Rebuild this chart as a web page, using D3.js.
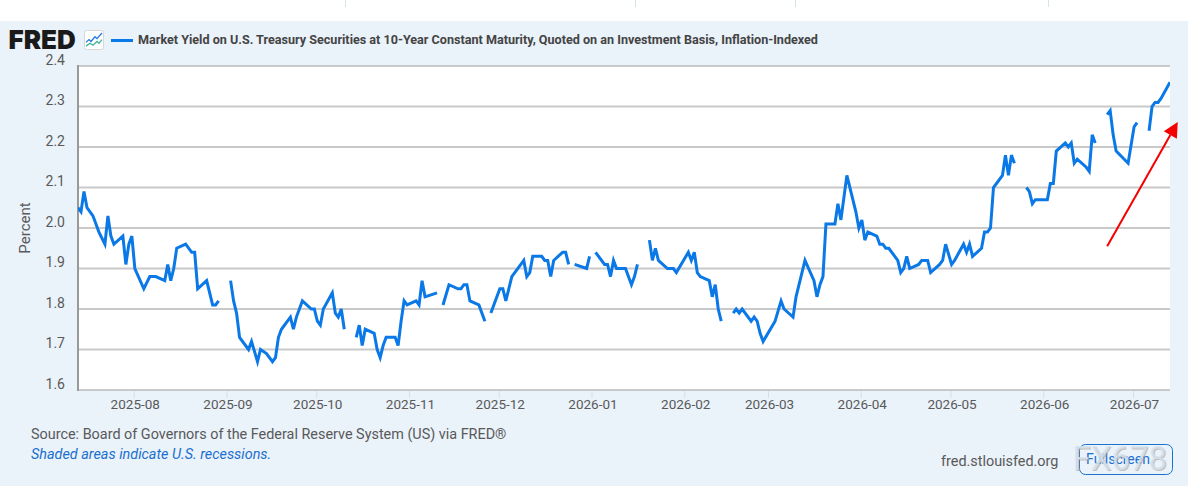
<!DOCTYPE html>
<html>
<head>
<meta charset="utf-8">
<script src="https://cdnjs.cloudflare.com/ajax/libs/d3/7.8.5/d3.min.js"></script>
<style>
  html, body { margin: 0; padding: 0; background: #fff; overflow: hidden; }
  svg { display: block; }
  text { font-family: Roboto, sans-serif; }
</style>
</head>
<body>
<svg id="chart" width="1200" height="493"></svg>
<script>
// Real yield on 10-year TIPS: observations are day offsets from the series start; null marks a missing quote.
const seriesStart = new Date(2025, 6, 13);
const seriesEnd = new Date(2026, 6, 13);

const obsDays = [
  0,1,2,3,5,7,9,10,11,12,15,16,17,18,19,22,24,26,29,30,31,32,33,36,38,39,40,43,45,46,47,48,
  51,52,53,54,57,58,60,61,63,65,66,67,68,71,72,73,75,78,79,80,81,82,85,86,87,88,89,90,
  93,94,95,96,99,100,101,102,103,106,107,108,109,110,113,114,115,116,120,121,
  122,124,127,128,129,130,131,134,136,137,
  138,141,142,143,145,149,150,151,152,155,156,157,158,159,162,163,164,165,
  166,170,171,172,
  173,176,177,178,179,180,183,185,186,187,188,
  191,192,193,194,197,199,200,204,205,206,207,208,211,212,213,214,215,216,
  219,220,221,222,225,226,227,228,229,233,235,236,239,240,241,243,246,247,248,249,250,253,254,255,257,
  260,261,262,263,264,267,268,269,270,271,274,275,276,277,278,281,282,284,285,288,289,290,292,293,296,297,298,299,
  302,303,304,305,306,309,310,311,312,313,314,
  317,318,319,320,324,325,326,327,330,331,332,333,334,337,338,339,340,341,
  344,345,346,347,351,353,354,355,
  358,359,360,361,362,365
];
const obsYields = [
  2.05,2.04,2.09,2.05,2.03,1.99,1.96,2.03,1.98,1.96,1.98,1.91,1.96,1.98,1.90,1.85,1.88,1.88,1.87,1.91,1.87,1.90,1.95,1.96,1.94,1.94,1.85,1.87,1.81,1.81,1.82,null,
  1.87,1.82,1.79,1.73,1.70,1.72,1.67,1.70,1.69,1.67,1.68,1.73,1.75,1.78,1.75,1.78,1.82,1.80,1.80,1.77,1.76,1.80,1.84,1.79,1.78,1.80,1.75,null,
  1.73,1.76,1.71,1.75,1.74,1.70,1.68,1.71,1.73,1.73,1.71,1.77,1.82,1.81,1.82,1.81,1.87,1.83,1.84,null,
  1.81,1.86,1.85,1.85,1.86,1.86,1.82,1.81,1.77,null,
  1.79,1.85,1.85,1.82,1.88,1.92,1.88,1.89,1.93,1.93,1.92,1.92,1.88,1.92,1.94,1.94,1.91,null,
  1.91,1.90,1.93,null,
  1.94,1.91,1.91,1.88,1.92,1.90,1.90,1.86,1.88,1.91,null,
  1.97,1.92,1.95,1.92,1.90,1.90,1.89,1.94,1.92,1.94,1.89,1.88,1.87,1.83,1.86,1.80,1.77,null,
  1.79,1.80,1.79,1.80,1.77,1.78,1.77,1.74,1.72,1.77,1.82,1.80,1.78,1.83,1.86,1.92,1.87,1.83,1.86,1.88,2.01,2.01,2.06,2.02,2.13,
  2.04,2.00,2.02,1.97,1.99,1.98,1.96,1.96,1.95,1.95,1.92,1.89,1.90,1.93,1.90,1.91,1.92,1.92,1.89,1.91,1.92,1.96,1.91,1.92,1.96,1.94,1.96,1.93,
  1.95,1.99,1.99,2.00,2.10,2.13,2.18,2.13,2.18,2.16,null,
  2.10,2.09,2.06,2.07,2.07,2.11,2.11,2.19,2.21,2.20,2.21,2.16,2.17,2.15,2.14,2.23,2.21,null,
  2.28,2.29,2.23,2.19,2.16,2.25,2.26,null,
  2.24,2.30,2.31,2.31,2.32,2.36
];

const yTicks = [1.6, 1.7, 1.8, 1.9, 2.0, 2.1, 2.2, 2.3, 2.4];
const chartTitle = "Market Yield on U.S. Treasury Securities at 10-Year Constant Maturity, Quoted on an Investment Basis, Inflation-Indexed";
const yAxisTitle = "Percent";
const sourceNote = "Source: Board of Governors of the Federal Reserve System (US) via FRED®";
const recessionNote = "Shaded areas indicate U.S. recessions.";
const siteLabel = "fred.stlouisfed.org";
const buttonLabel = "Fullscreen";
const stampLabel = "FX678";

// Hand-drawn trend arrow, expressed in chart units (day offset, yield).
const arrowDays = [344, 367.6];
const arrowYields = [1.955, 2.262];

// Small trend lines inside the FRED logo icon.
const iconBlue = [[0, 10], [3, 7], [5, 9], [9, 4], [11, 6], [16, 0]];
const iconGreen = [[0, 14], [4, 11], [7, 13], [11, 9], [13, 11], [16, 7]];

const COLORS = { panel: "#eaf2fa", line: "#0a78e6", grid: "#c9c9c9", axis: "#999999", text: "#595959", link: "#1a6fcf" };

const svg = d3.select("#chart");
svg.append("rect").attr("x", 0).attr("y", 21).attr("width", 1188).attr("height", 465).attr("fill", COLORS.panel);

// Page rule fragments above the chart panel
svg.append("g").selectAll("line").data([345, 635, 795, 1048]).join("line")
  .attr("x1", d => d + 0.5).attr("x2", d => d + 0.5).attr("y1", 0).attr("y2", 7)
  .attr("stroke", "#d5e3ea");

const plot = { left: 78, right: 1170, top: 66, bottom: 390 };
const x = d3.scaleTime().domain([seriesStart, seriesEnd]).range([plot.left, plot.right]);
const y = d3.scaleLinear().domain([1.6, 2.4]).range([plot.bottom, plot.top]);
const dayToDate = d => d3.timeHour.offset(seriesStart, d * 24);

svg.append("rect").attr("x", plot.left).attr("y", plot.top)
  .attr("width", plot.right - plot.left).attr("height", plot.bottom - plot.top).attr("fill", "#fff");

// Month ticks and labels
const xAxis = d3.axisBottom(x)
  .tickValues(d3.timeMonth.range(new Date(2025, 7, 1), new Date(2026, 7, 1)))
  .tickFormat(d3.timeFormat("%Y-%m"))
  .tickSize(8).tickPadding(1).offset(-0.6);
const xg = svg.append("g").attr("transform", `translate(0,${plot.bottom})`).call(xAxis);
xg.select(".domain").remove();
xg.selectAll("line").attr("stroke", "#d3e0ec").attr("stroke-width", 1);
xg.selectAll("text").attr("fill", COLORS.text).attr("font-size", 13.5).attr("dx", 1)
  .style("font-family", "Roboto, sans-serif");

// Horizontal grid and value labels sitting just above each rule
const yAxis = d3.axisLeft(y).tickValues(yTicks).tickFormat(d3.format(".1f"))
  .tickSize(plot.left - plot.right).tickPadding(0).offset(0);
const yg = svg.append("g").attr("transform", `translate(${plot.left},0)`).call(yAxis);
yg.select(".domain").remove();
yg.selectAll("line").attr("stroke", COLORS.grid).attr("stroke-width", 2);
yg.selectAll("text").attr("fill", COLORS.text).attr("font-size", 14)
  .attr("x", -13).attr("dy", -1.5)
  .style("font-family", "Roboto, sans-serif");

svg.append("line").attr("x1", plot.left).attr("x2", plot.left)
  .attr("y1", plot.top - 1).attr("y2", plot.bottom + 1)
  .attr("stroke", COLORS.axis).attr("stroke-width", 2);

svg.append("text").text(yAxisTitle)
  .attr("transform", "translate(30,228) rotate(-90)")
  .attr("text-anchor", "middle").attr("fill", COLORS.text).attr("font-size", 15);

// Yield line, broken where a quote is missing
const records = obsDays.map((d, i) => ({ date: dayToDate(d), value: obsYields[i] }));
const line = d3.line().defined(d => d.value !== null).x(d => x(d.date)).y(d => y(d.value));
svg.append("defs").append("clipPath").attr("id", "plot-clip").append("rect")
  .attr("x", plot.left).attr("y", plot.top).attr("width", plot.right - plot.left).attr("height", plot.bottom - plot.top);
svg.append("path").datum(records).attr("d", line).attr("clip-path", "url(#plot-clip)")
  .attr("fill", "none").attr("stroke", COLORS.line).attr("stroke-width", 3).attr("stroke-linejoin", "miter");

// Header: logo, icon, legend key, series title
svg.append("text").text("FRED").attr("x", 8.5).attr("y", 49)
  .style("font-family", "Inter, sans-serif").attr("font-weight", 900).attr("font-size", 26)
  .attr("letter-spacing", 0).attr("fill", "#1a1a1a");
const icon = svg.append("g").attr("transform", "translate(84,30)");
icon.append("rect").attr("x", 0.5).attr("y", 0.5).attr("width", 19).attr("height", 19).attr("rx", 2)
  .attr("fill", "#fff").attr("stroke", "#d8d8d8");
const iconX = d3.scaleLinear().domain([0, 16]).range([2, 18]);
const iconY = d3.scaleLinear().domain([0, 16]).range([3, 18]);
const iconLine = d3.line().x(d => iconX(d[0])).y(d => iconY(d[1]));
icon.append("path").attr("d", iconLine(iconBlue)).attr("fill", "none").attr("stroke", "#2079e0").attr("stroke-width", 1.3);
icon.append("path").attr("d", iconLine(iconGreen)).attr("fill", "none").attr("stroke", "#3fb59a").attr("stroke-width", 1.3);

svg.append("line").attr("x1", 111).attr("x2", 133).attr("y1", 40.5).attr("y2", 40.5)
  .attr("stroke", COLORS.line).attr("stroke-width", 3);
svg.append("text").text(chartTitle).attr("x", 138).attr("y", 44)
  .attr("font-weight", 700).attr("font-size", 12.6).attr("fill", "#444");

// Footer notes
svg.append("text").text(sourceNote).attr("x", 31).attr("y", 439).attr("font-size", 14.4).attr("fill", COLORS.text);
svg.append("text").text(recessionNote).attr("x", 31).attr("y", 459).attr("font-size", 14.4)
  .attr("font-style", "italic").attr("fill", COLORS.link);
svg.append("text").text(siteLabel).attr("x", 941).attr("y", 466).attr("font-size", 14.4).attr("fill", COLORS.text);

// Fullscreen button with the translucent stamp on top
svg.append("rect").attr("x", 1079.5).attr("y", 444.5).attr("width", 93).attr("height", 30).attr("rx", 6)
  .attr("fill", "none").attr("stroke", "#1a6fcf");
svg.append("text").text(buttonLabel).attr("x", 1118).attr("y", 464).attr("text-anchor", "middle")
  .attr("font-size", 14).attr("fill", "#1a6fcf");
svg.append("text").text(stampLabel).attr("x", 1073.5).attr("y", 471).attr("font-size", 33)
  .attr("fill", "#a8917c").attr("fill-opacity", 0.55);
svg.append("text").text(stampLabel).attr("x", 1072.5).attr("y", 470).attr("font-size", 33)
  .attr("fill", "#d3e3f1").attr("fill-opacity", 0.85);

// Trend arrow
const [ax0, ax1] = arrowDays.map(d => x(dayToDate(d)));
const [ay0, ay1] = arrowYields.map(v => y(v));
const angle = Math.atan2(ay1 - ay0, ax1 - ax0);
const headLen = 15, headHalf = 7.5;
const baseX = ax1 - headLen * Math.cos(angle), baseY = ay1 - headLen * Math.sin(angle);
svg.append("line").attr("x1", ax0).attr("y1", ay0).attr("x2", baseX).attr("y2", baseY)
  .attr("stroke", "#f50000").attr("stroke-width", 2);
svg.append("polygon").attr("fill", "#f50000").attr("points", [
  [ax1, ay1],
  [baseX + headHalf * Math.sin(angle), baseY - headHalf * Math.cos(angle)],
  [baseX - headHalf * Math.sin(angle), baseY + headHalf * Math.cos(angle)]
].map(p => p.join(",")).join(" "));
</script>
</body>
</html>
